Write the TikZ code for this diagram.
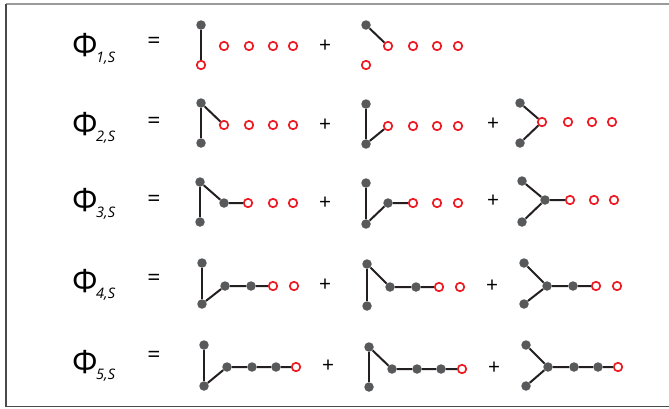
\documentclass[tikz,border=0pt]{standalone}
\usepackage{fontspec}
\setmainfont{Open Sans}
\definecolor{dotgray}{HTML}{58595B}
\definecolor{linek}{HTML}{231F20}
\definecolor{ringred}{HTML}{ED1C24}
\definecolor{frametop}{HTML}{9A9A9A}
\definecolor{frameside}{HTML}{4A4A4A}
\tikzset{
  gd/.style={circle,fill=dotgray,draw=none,inner sep=0pt,minimum size=9.5pt},
  rd/.style={circle,draw=ringred,line width=1.7pt,fill=white,inner sep=0pt,minimum size=8.5pt},
  bond/.style={draw=linek,line width=2pt},
  phi/.style={inner sep=0pt,font=\fontsize{32}{32}\selectfont},
  sub/.style={inner sep=0pt,anchor=west,font=\fontsize{14.5}{14.5}\selectfont\itshape},
  eq/.style={inner sep=0pt,font=\fontsize{23}{23}\selectfont},
  pl/.style={inner sep=0pt,font=\fontsize{21}{21}\selectfont},
}
\begin{document}
\begin{tikzpicture}[x=1pt,y=-1pt]
\useasboundingbox (0,0) rectangle (669,408);
% frame
\coordinate (ftl) at (6,4);
\coordinate (ftr) at (669,4);
\coordinate (fbl) at (6,406.5);
\coordinate (fbr) at (669,406.5);
\draw[frametop,line width=1.8pt] (ftl) -- (ftr);
\draw[frameside,line width=1.5pt] (ftl) -- (fbl) -- (fbr);

% ---------- labels ----------
\node[phi] (p1) at (85,45) {Φ};  \node[sub] (s1) at (96,58) {1,S};  \node[eq] (e1) at (154,43) {=};
\node[phi] (p2) at (85,124) {Φ}; \node[sub] (s2) at (96,137) {2,S}; \node[eq] (e2) at (154,123) {=};
\node[phi] (p3) at (85,200) {Φ}; \node[sub] (s3) at (96,213) {3,S}; \node[eq] (e3) at (154,201) {=};
\node[phi] (p4) at (85,281) {Φ}; \node[sub] (s4) at (96,294) {4,S}; \node[eq] (e4) at (154,280) {=};
\node[phi] (p5) at (85,362) {Φ}; \node[sub] (s5) at (96,375) {5,S}; \node[eq] (e5) at (154,357) {=};

\node[pl] (q1a) at (325,46) {+};
\node[pl] (q2a) at (325,125) {+}; \node[pl] (q2b) at (493,124) {+};
\node[pl] (q3a) at (325,203) {+}; \node[pl] (q3b) at (493,201) {+};
\node[pl] (q4a) at (325,285) {+}; \node[pl] (q4b) at (492,286) {+};
\node[pl] (q5a) at (328,366) {+}; \node[pl] (q5b) at (494,368) {+};

% ---------- row 1 ----------
\node[gd] (a1t) at (201,25) {};
\node[rd] (a1b) at (201,65) {};
\node[rd] (a1r1) at (224,46) {};
\node[rd] (a1r2) at (249,46) {};
\node[rd] (a1r3) at (273,46) {};
\node[rd] (a1r4) at (293,46) {};
\draw[bond] (a1t) -- (a1b);

\node[gd] (b1t) at (366,25) {};
\node[rd] (b1b) at (366,65) {};
\node[rd] (b1r1) at (388,46) {};
\node[rd] (b1r2) at (413,46) {};
\node[rd] (b1r3) at (437,46) {};
\node[rd] (b1r4) at (458,46) {};
\draw[bond] (b1t) -- (b1r1);

% ---------- row 2 ----------
\node[gd] (a2t) at (201,103) {};
\node[gd] (a2b) at (201,143) {};
\node[rd] (a2r1) at (224,125) {};
\node[rd] (a2r2) at (249,125) {};
\node[rd] (a2r3) at (273,125) {};
\node[rd] (a2r4) at (293,125) {};
\draw[bond] (a2t) -- (a2b);
\draw[bond] (a2t) -- (a2r1);

\node[gd] (b2t) at (366,104) {};
\node[gd] (b2b) at (366,144) {};
\node[rd] (b2r1) at (388,126) {};
\node[rd] (b2r2) at (413,126) {};
\node[rd] (b2r3) at (437,126) {};
\node[rd] (b2r4) at (458,126) {};
\draw[bond] (b2t) -- (b2b);
\draw[bond] (b2b) -- (b2r1);

\node[gd] (c2t) at (520,103) {};
\node[gd] (c2b) at (520,143) {};
\node[rd] (c2r1) at (542,122) {};
\node[rd] (c2r2) at (568,122) {};
\node[rd] (c2r3) at (592,122) {};
\node[rd] (c2r4) at (612,122) {};
\draw[bond] (c2t) -- (c2r1);
\draw[bond] (c2b) -- (c2r1);

% ---------- row 3 ----------
\node[gd] (a3t) at (200,182) {};
\node[gd] (a3b) at (200,222) {};
\node[gd] (a3j) at (224,203) {};
\node[rd] (a3r1) at (248,203) {};
\node[rd] (a3r2) at (273,203) {};
\node[rd] (a3r3) at (293,203) {};
\draw[bond] (a3t) -- (a3b);
\draw[bond] (a3t) -- (a3j) -- (a3r1);

\node[gd] (b3t) at (366,183) {};
\node[gd] (b3b) at (366,224) {};
\node[gd] (b3j) at (388,203) {};
\node[rd] (b3r1) at (413,203) {};
\node[rd] (b3r2) at (437,203) {};
\node[rd] (b3r3) at (458,203) {};
\draw[bond] (b3t) -- (b3b);
\draw[bond] (b3b) -- (b3j) -- (b3r1);

\node[gd] (c3t) at (522,181) {};
\node[gd] (c3b) at (522,222) {};
\node[gd] (c3j) at (545,200) {};
\node[rd] (c3r1) at (570,200) {};
\node[rd] (c3r2) at (594,200) {};
\node[rd] (c3r3) at (614,200) {};
\draw[bond] (c3t) -- (c3j);
\draw[bond] (c3b) -- (c3j) -- (c3r1);

% ---------- row 4 ----------
\node[gd] (a4t) at (202,263) {};
\node[gd] (a4b) at (202,304) {};
\node[gd] (a4j) at (225,286) {};
\node[gd] (a4g) at (251,286) {};
\node[rd] (a4r1) at (273,286) {};
\node[rd] (a4r2) at (294,286) {};
\draw[bond] (a4t) -- (a4b);
\draw[bond] (a4b) -- (a4j) -- (a4g) -- (a4r1);

\node[gd] (b4t) at (367,264) {};
\node[gd] (b4b) at (367,306) {};
\node[gd] (b4j) at (390,287) {};
\node[gd] (b4g) at (416,287) {};
\node[rd] (b4r1) at (439,287) {};
\node[rd] (b4r2) at (460,287) {};
\draw[bond] (b4t) -- (b4b);
\draw[bond] (b4t) -- (b4j) -- (b4g) -- (b4r1);

\node[gd] (c4t) at (524,263) {};
\node[gd] (c4b) at (524,304) {};
\node[gd] (c4j) at (547,286) {};
\node[gd] (c4g) at (573,286) {};
\node[rd] (c4r1) at (596,286) {};
\node[rd] (c4r2) at (617,286) {};
\draw[bond] (c4t) -- (c4j);
\draw[bond] (c4b) -- (c4j) -- (c4g) -- (c4r1);

% ---------- row 5 ----------
\node[gd] (a5t) at (204,345) {};
\node[gd] (a5b) at (204,386) {};
\node[gd] (a5j) at (227,367) {};
\node[gd] (a5g1) at (252,367) {};
\node[gd] (a5g2) at (276,367) {};
\node[rd] (a5r1) at (296,367) {};
\draw[bond] (a5t) -- (a5b);
\draw[bond] (a5b) -- (a5j) -- (a5g1) -- (a5g2) -- (a5r1);

\node[gd] (b5t) at (369,347) {};
\node[gd] (b5b) at (369,387) {};
\node[gd] (b5j) at (392,369) {};
\node[gd] (b5g1) at (417,369) {};
\node[gd] (b5g2) at (441,369) {};
\node[rd] (b5r1) at (462,369) {};
\draw[bond] (b5t) -- (b5b);
\draw[bond] (b5t) -- (b5j) -- (b5g1) -- (b5g2) -- (b5r1);

\node[gd] (c5t) at (526,345) {};
\node[gd] (c5b) at (526,386) {};
\node[gd] (c5j) at (548,367) {};
\node[gd] (c5g1) at (574,367) {};
\node[gd] (c5g2) at (598,367) {};
\node[rd] (c5r1) at (618,367) {};
\draw[bond] (c5t) -- (c5j);
\draw[bond] (c5b) -- (c5j) -- (c5g1) -- (c5g2) -- (c5r1);
\end{tikzpicture}
\end{document}
